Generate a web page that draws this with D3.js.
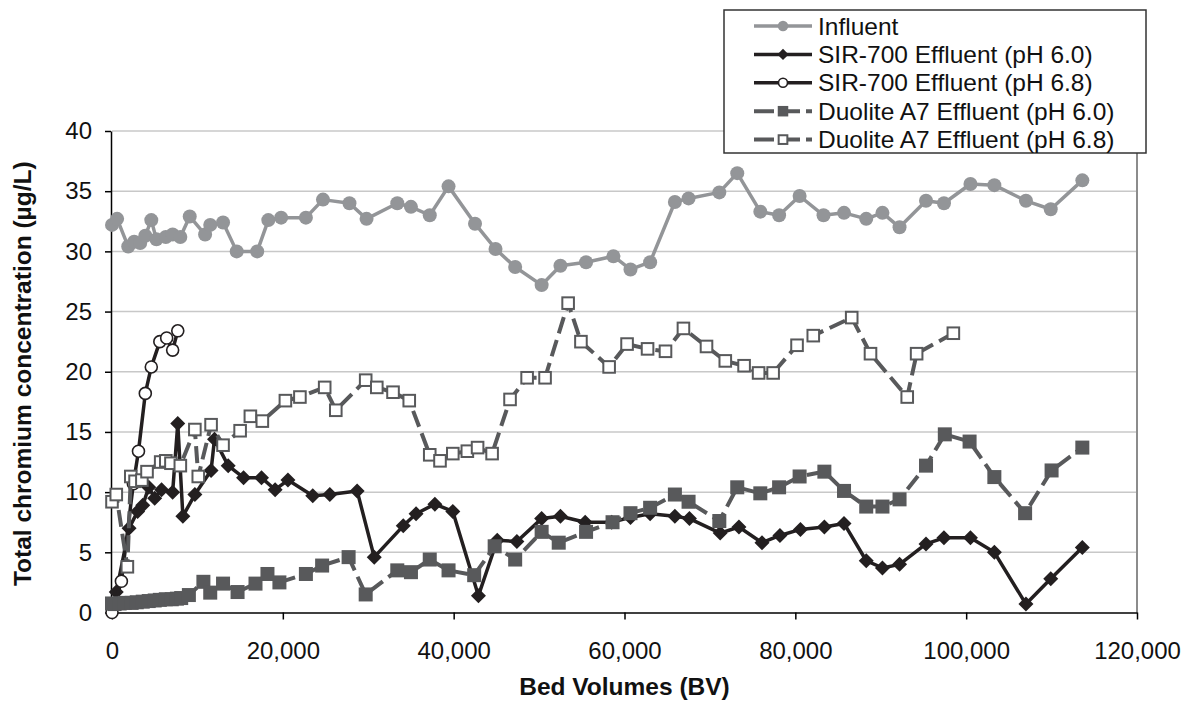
<!DOCTYPE html>
<html>
<head>
<meta charset="utf-8">
<script src="https://cdn.jsdelivr.net/npm/d3@7/dist/d3.min.js"></script>
<style>
  body { margin: 0; background: #fff; }
  svg { display: block; }
  text { font-family: "Liberation Sans", Arial, sans-serif; }
</style>
</head>
<body>
<svg id="chart" width="1188" height="704"></svg>
<script>
// ---- data ----
const influentBV = [0, 600, 1900, 2600, 3300, 3900, 4600, 5200, 6300, 7100, 8000, 9100, 10900, 11500, 13000, 14600, 17000, 18300, 19800, 22700, 24700, 27800, 29800, 33400, 35000, 37200, 39400, 42500, 44900, 47200, 50300, 52500, 55500, 58700, 60700, 63000, 65900, 67500, 71100, 73200, 75900, 78100, 80500, 83300, 85700, 88300, 90200, 92200, 95300, 97400, 100500, 103300, 107000, 109900, 113600];
const influentCr = [32.2, 32.7, 30.4, 30.8, 30.7, 31.3, 32.6, 31.0, 31.2, 31.4, 31.2, 32.9, 31.4, 32.2, 32.4, 30.0, 30.0, 32.6, 32.8, 32.8, 34.3, 34.0, 32.7, 34.0, 33.7, 33.0, 35.4, 32.3, 30.2, 28.7, 27.2, 28.8, 29.1, 29.6, 28.5, 29.1, 34.1, 34.4, 34.9, 36.5, 33.3, 33.0, 34.6, 33.0, 33.2, 32.7, 33.2, 32.0, 34.2, 34.0, 35.6, 35.5, 34.2, 33.5, 35.9];

const sir60BV = [500, 2000, 3000, 3600, 4300, 5000, 5800, 7100, 7700, 8300, 9700, 11600, 12000, 13600, 15400, 17500, 19100, 20600, 23500, 25500, 28700, 30700, 34100, 35600, 37800, 39900, 42900, 45100, 47400, 50300, 52500, 55400, 58500, 60700, 63000, 65900, 67600, 71200, 73400, 76100, 78200, 80600, 83400, 85700, 88300, 90200, 92200, 95300, 97400, 100500, 103300, 107000, 109900, 113600];
const sir60Cr = [1.7, 7.0, 8.4, 8.9, 10.4, 9.5, 10.2, 10.0, 15.7, 8.0, 9.8, 11.8, 14.4, 12.2, 11.2, 11.2, 10.2, 11.0, 9.7, 9.8, 10.1, 4.6, 7.2, 8.2, 9.0, 8.4, 1.4, 6.0, 5.9, 7.8, 8.0, 7.5, 7.5, 7.9, 8.2, 8.0, 7.8, 6.6, 7.1, 5.8, 6.4, 6.9, 7.1, 7.4, 4.3, 3.7, 4.0, 5.7, 6.2, 6.2, 5.0, 0.7, 2.8, 5.4];

const sir68BV = [0, 1100, 2500, 3100, 3900, 4600, 5600, 6400, 7100, 7700];
const sir68Cr = [0, 2.6, 10.7, 13.4, 18.2, 20.4, 22.5, 22.8, 21.8, 23.4];

const duo60BV = [0, 300, 900, 1500, 2300, 2900, 3600, 4300, 5000, 5600, 6300, 7000, 7600, 8100, 9000, 10700, 11500, 13000, 14700, 16800, 18200, 19600, 22700, 24600, 27700, 29700, 33400, 35000, 37200, 39400, 42400, 44800, 47200, 50300, 52300, 55500, 58600, 60700, 63000, 65900, 67500, 71100, 73200, 75900, 78100, 80500, 83400, 85700, 88300, 90200, 92200, 95300, 97500, 100400, 103300, 106900, 110000, 113600];
const duo60Cr = [0.75, 0.7, 0.75, 0.8, 0.8, 0.85, 0.9, 0.95, 1.0, 1.05, 1.1, 1.1, 1.15, 1.2, 1.45, 2.55, 1.65, 2.4, 1.7, 2.4, 3.2, 2.5, 3.2, 3.9, 4.6, 1.5, 3.5, 3.35, 4.4, 3.5, 3.1, 5.5, 4.4, 6.7, 5.8, 6.7, 7.5, 8.25, 8.7, 9.8, 9.2, 7.6, 10.4, 9.9, 10.4, 11.3, 11.7, 10.1, 8.8, 8.8, 9.4, 12.2, 14.8, 14.2, 11.25, 8.25, 11.8, 13.7];

const duo68BV = [0, 500, 1800, 2200, 2700, 3500, 4100, 5700, 6300, 6900, 8000, 9700, 10100, 11600, 13000, 15000, 16200, 17600, 20300, 22000, 24900, 26200, 29700, 31000, 32900, 34800, 37200, 38400, 39900, 41600, 42800, 44500, 46600, 48600, 50700, 53400, 54900, 58200, 60300, 62700, 64800, 66900, 69600, 71800, 74000, 75700, 77400, 80200, 82100, 86600, 88800, 93100, 94200, 98500];
const duo68Cr = [9.2, 9.8, 3.8, 11.3, 10.9, 11.0, 11.7, 12.5, 12.6, 12.4, 12.2, 15.2, 11.3, 15.6, 13.9, 15.1, 16.3, 15.9, 17.6, 17.9, 18.7, 16.8, 19.3, 18.7, 18.3, 17.6, 13.1, 12.6, 13.2, 13.4, 13.7, 13.2, 17.7, 19.5, 19.5, 25.7, 22.5, 20.4, 22.3, 21.9, 21.7, 23.6, 22.1, 20.9, 20.5, 19.9, 19.9, 22.2, 23.0, 24.5, 21.5, 17.9, 21.5, 23.2];

const seriesNames = ["Influent", "SIR-700 Effluent (pH 6.0)", "SIR-700 Effluent (pH 6.8)", "Duolite A7 Effluent (pH 6.0)", "Duolite A7 Effluent (pH 6.8)"];
const xTicks = [0, 20000, 40000, 60000, 80000, 100000, 120000];
const yTicks = [0, 5, 10, 15, 20, 25, 30, 35, 40];

// ---- look ----
const styles = [
  { color: "#939598", width: 3.5, dash: null, marker: "circle", r: 7, fill: "#939598", mw: 0 },
  { color: "#231f20", width: 3.5, dash: null, marker: "diamond", r: 7.5, fill: "#231f20", mw: 0 },
  { color: "#231f20", width: 3.5, dash: null, marker: "circle", r: 6, fill: "#fff", mw: 1.6 },
  { color: "#58595b", width: 4, dash: "17,7", marker: "square", r: 7, fill: "#58595b", mw: 0 },
  { color: "#58595b", width: 4, dash: "17,7", marker: "square", r: 5.8, fill: "#fff", mw: 2 }
];

const series = [
  [influentBV, influentCr],
  [sir60BV, sir60Cr],
  [sir68BV, sir68Cr],
  [duo60BV, duo60Cr],
  [duo68BV, duo68Cr]
].map(([bv, cr], i) => ({
  name: seriesNames[i],
  style: styles[i],
  points: bv.map((v, j) => ({ bv: v, cr: cr[j] }))
}));

const svg = d3.select("#chart");
const x = d3.scaleLinear().domain([0, 120000]).range([112, 1137]);
const y = d3.scaleLinear().domain([0, 40]).range([612.5, 131]);

// gridlines
svg.append("g")
  .selectAll("line")
  .data(yTicks.slice(1))
  .join("line")
  .attr("x1", x(0))
  .attr("x2", x(120000))
  .attr("y1", (d) => y(d))
  .attr("y2", (d) => y(d))
  .attr("stroke", "#c8c8c8")
  .attr("stroke-width", 1.5);

// right border of plot area
svg.append("line")
  .attr("x1", x(120000)).attr("x2", x(120000))
  .attr("y1", y(40)).attr("y2", y(0))
  .attr("stroke", "#8c8c8c")
  .attr("stroke-width", 2);

// axes
const xAxis = svg.append("g")
  .attr("transform", `translate(0,${y(0)})`)
  .call(d3.axisBottom(x).tickValues(xTicks).tickFormat(d3.format(",")).tickSize(7).tickSizeOuter(0).tickPadding(22));
const yAxis = svg.append("g")
  .attr("transform", `translate(${x(0) - 1},0)`)
  .call(d3.axisLeft(y).tickValues(yTicks).tickFormat(d3.format("d")).tickSize(6).tickSizeOuter(0).tickPadding(13));

[xAxis, yAxis].forEach((a) => {
  a.select(".domain").attr("stroke", "#000").attr("stroke-width", 1.5);
  a.selectAll(".tick line").attr("stroke", "#000").attr("stroke-width", 1.5);
  a.selectAll(".tick text").attr("fill", "#111").style("font-size", "24px");
});

// axis titles
svg.append("text")
  .attr("x", x(60000))
  .attr("y", 695)
  .attr("text-anchor", "middle")
  .style("font-size", "24.5px")
  .style("font-weight", "bold")
  .attr("fill", "#111")
  .text("Bed Volumes (BV)");

svg.append("text")
  .attr("transform", `translate(31,${(y(0) + y(40)) / 2 + 2}) rotate(-90)`)
  .attr("text-anchor", "middle")
  .style("font-size", "24.5px")
  .style("font-weight", "bold")
  .attr("fill", "#111")
  .text("Total chromium concentration (\u00b5g/L)");

// marker drawing helper
function drawMarker(sel, st, scale) {
  const r = st.r * scale;
  let m;
  if (st.marker === "circle") {
    m = sel.append("circle").attr("r", r);
  } else if (st.marker === "square") {
    m = sel.append("rect").attr("x", -r).attr("y", -r).attr("width", 2 * r).attr("height", 2 * r);
  } else {
    m = sel.append("path").attr("d", `M0,${-r}L${r},0L0,${r}L${-r},0Z`);
  }
  m.attr("fill", st.fill)
    .attr("stroke", st.mw ? st.color : "none")
    .attr("stroke-width", st.mw);
}

const line = d3.line().x((d) => x(d.bv)).y((d) => y(d.cr));

series.forEach((s) => {
  const g = svg.append("g");
  g.append("path")
    .datum(s.points)
    .attr("d", line)
    .attr("fill", "none")
    .attr("stroke", s.style.color)
    .attr("stroke-width", s.style.width)
    .attr("stroke-linejoin", "round")
    .attr("stroke-dasharray", s.style.dash);
  g.selectAll("g.pt")
    .data(s.points)
    .join("g")
    .attr("class", "pt")
    .attr("transform", (d) => `translate(${x(d.bv)},${y(d.cr)})`)
    .each(function () { drawMarker(d3.select(this), s.style, 1); });
});

// legend
const legend = svg.append("g");
legend.append("rect")
  .attr("x", 724).attr("y", 10)
  .attr("width", 422).attr("height", 143)
  .attr("fill", "#fff")
  .attr("stroke", "#333")
  .attr("stroke-width", 1.5);

const rows = legend.selectAll("g.row")
  .data(series)
  .join("g")
  .attr("class", "row")
  .attr("transform", (d, i) => `translate(754,${26 + i * 28.4})`);

rows.append("line")
  .attr("x1", 0).attr("x2", 58)
  .attr("stroke", (d) => d.style.color)
  .attr("stroke-width", (d) => d.style.width)
  .attr("stroke-dasharray", (d) => (d.style.dash ? "20,6" : null));

rows.append("g")
  .attr("transform", "translate(29,0)")
  .each(function (d) { drawMarker(d3.select(this), d.style, 0.75); });

rows.append("text")
  .attr("x", 64)
  .attr("y", 8.5)
  .style("font-size", "24.5px")
  .attr("fill", "#111")
  .text((d) => d.name);
</script>
</body>
</html>
